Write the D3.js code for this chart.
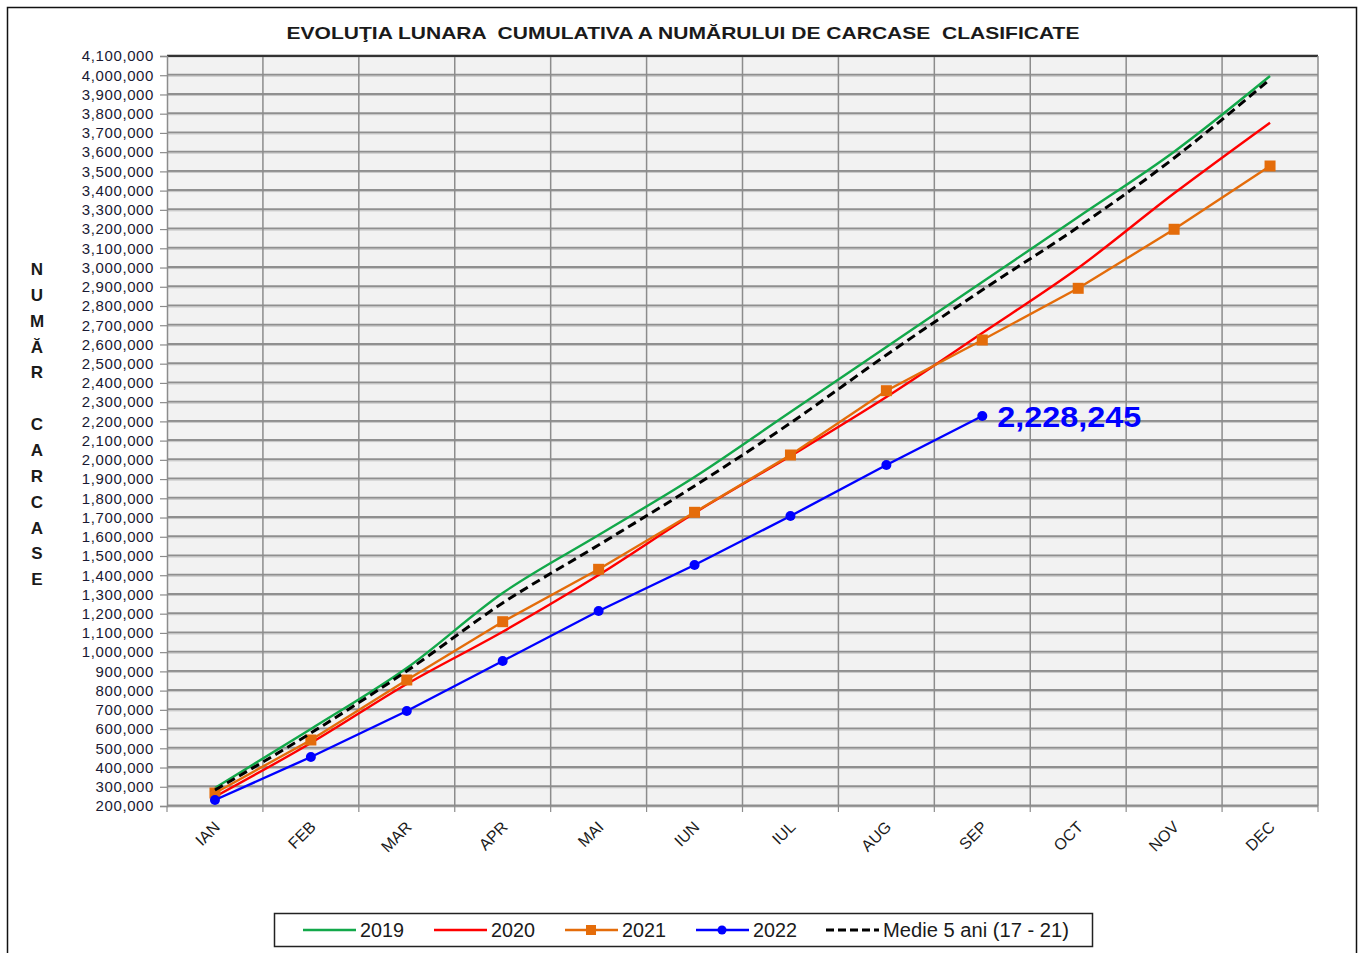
<!DOCTYPE html>
<html>
<head>
<meta charset="utf-8">
<script src="https://cdn.jsdelivr.net/npm/d3@7"></script>
<style>
  html, body { margin: 0; padding: 0; background: #fff; }
  svg { display: block; }
  text { font-family: Arial, "Liberation Sans", sans-serif; }
</style>
</head>
<body>
<svg id="chart" width="1362" height="953"></svg>
<script>
// ---------- data ----------
const months = ["IAN","FEB","MAR","APR","MAI","IUN","IUL","AUG","SEP","OCT","NOV","DEC"];
const yTicks = d3.range(200000, 4100001, 100000);
const s2019 = [293600, 600400, 917600, 1307600, 1609200, 1910800, 2248800, 2586800, 2924800, 3262800, 3602400, 3996000];
const s2020 = [248400, 527600, 834400, 1106400, 1401200, 1723600, 2020000, 2326800, 2659600, 2997600, 3386000, 3753200];
const s2021 = [267600, 543200, 855200, 1158400, 1430800, 1727200, 2025200, 2359600, 2623200, 2892000, 3199000, 3528000];
const s2022 = [231200, 454800, 694000, 954000, 1214000, 1453200, 1708000, 1973200, 2228245];
const medie = [283200, 579600, 902000, 1255600, 1557200, 1864000, 2191600, 2545200, 2883200, 3210800, 3569600, 3978800];
const legendLabels = ["2019", "2020", "2021", "2022", "Medie 5 ani (17 - 21)"];
const titleText = "EVOLUŢIA LUNARA  CUMULATIVA A NUMĂRULUI DE CARCASE  CLASIFICATE";
const yAxisLetters = ["N","U","M","Ă","R","","C","A","R","C","A","S","E"];

const svg = d3.select("#chart");

// outer frame
svg.append("rect").attr("x", 7.5).attr("y", 7.5).attr("width", 1349).attr("height", 970)
  .attr("fill", "#fff").attr("stroke", "#111").attr("stroke-width", 1.5);

const L = 167, R = 1318, T = 56, B = 806;
const x = d3.scaleBand().domain(months).range([L, R]).padding(0);
const y = d3.scaleLinear().domain([200000, 4100000]).range([B, T]);
const cx = m => x(m) + x.bandwidth() / 2;

// plot bg
svg.append("rect").attr("x", L).attr("y", T).attr("width", R - L).attr("height", B - T).attr("fill", "#f2f2f2");

// horizontal grid
const hg = svg.append("g");
yTicks.forEach(v => {
  hg.append("line").attr("x1", L).attr("x2", R).attr("y1", y(v) - 0.5).attr("y2", y(v) - 0.5)
    .attr("stroke", "#8f8f8f").attr("stroke-width", 2);
  hg.append("line").attr("x1", L).attr("x2", R).attr("y1", y(v) + 1).attr("y2", y(v) + 1)
    .attr("stroke", "#c4c4c4").attr("stroke-width", 1);
});
// vertical grid
months.slice(1).forEach(m => {
  svg.append("line").attr("x1", x(m)).attr("x2", x(m)).attr("y1", T).attr("y2", B)
    .attr("stroke", "#8c8c8c").attr("stroke-width", 1.5);
});
// top & right border
svg.append("line").attr("x1", L).attr("x2", R).attr("y1", T).attr("y2", T).attr("stroke", "#333").attr("stroke-width", 2);
svg.append("line").attr("x1", R).attr("x2", R).attr("y1", T).attr("y2", B).attr("stroke", "#8c8c8c").attr("stroke-width", 1.5);

// y axis
const yAxis = d3.axisLeft(y).tickValues(yTicks).tickFormat(d3.format(",")).tickSize(7).tickPadding(6);
const gy = svg.append("g").attr("transform", `translate(${L},0)`).call(yAxis);
gy.select(".domain").attr("stroke", "#8c8c8c").attr("stroke-width", 1.5);
gy.selectAll(".tick line").attr("stroke", "#8c8c8c").attr("stroke-width", 1.2);
gy.selectAll(".tick text").attr("font-size", 15).attr("fill", "#1a1a33")
  .attr("font-family", "Arial, 'Liberation Sans', sans-serif").attr("letter-spacing", 0.6);

// x axis
const gx = svg.append("g").attr("transform", `translate(0,${B})`);
gx.append("line").attr("x1", L).attr("x2", R).attr("y1", 0).attr("y2", 0).attr("stroke", "#8c8c8c").attr("stroke-width", 1.5);
months.concat(["_end"]).forEach((m, i) => {
  const xx = i < 12 ? x(m) : R;
  gx.append("line").attr("x1", xx).attr("x2", xx).attr("y1", 0).attr("y2", 6).attr("stroke", "#8c8c8c").attr("stroke-width", 1.2);
});
gx.selectAll("text.xl").data(months).enter().append("text")
  .attr("class", "xl")
  .attr("transform", d => `translate(${cx(d) + 6},${22}) rotate(-45)`)
  .attr("text-anchor", "end").attr("font-size", 16).attr("fill", "#1a1a1a").text(d => d);

// title
svg.append("text").attr("x", 683).attr("y", 39).attr("text-anchor", "middle")
  .attr("font-size", 17).attr("font-weight", "bold").attr("fill", "#1a1a1a")
  .attr("textLength", 793).attr("lengthAdjust", "spacingAndGlyphs")
  .style("white-space", "pre").text(titleText);

// vertical y label
svg.append("g").selectAll("text").data(yAxisLetters).enter().append("text")
  .attr("x", 37).attr("y", (d, i) => 275 + i * 25.85).attr("text-anchor", "middle")
  .attr("font-size", 17).attr("font-weight", "bold").attr("fill", "#1a1a1a").text(d => d);

// series
const colors = { g: "#12a84a", r: "#ff0000", o: "#e46c0a", b: "#0000ff", k: "#000" };
const mk = (data) => data.map((v, i) => [cx(months[i]), y(v)]);
const smooth = d3.line().curve(d3.curveMonotoneX);
const straight = d3.line();

const plot = svg.append("g");
plot.append("path").attr("d", smooth(mk(s2019))).attr("fill", "none").attr("stroke", colors.g).attr("stroke-width", 2.4);
plot.append("path").attr("d", smooth(mk(s2020))).attr("fill", "none").attr("stroke", colors.r).attr("stroke-width", 2.4);
plot.append("path").attr("d", straight(mk(s2021))).attr("fill", "none").attr("stroke", colors.o).attr("stroke-width", 2.4);
plot.selectAll("rect.o").data(mk(s2021)).enter().append("rect").attr("class", "o")
  .attr("x", d => d[0] - 5.5).attr("y", d => d[1] - 5.5).attr("width", 11).attr("height", 11).attr("fill", colors.o);
plot.append("path").attr("d", straight(mk(s2022))).attr("fill", "none").attr("stroke", colors.b).attr("stroke-width", 2.4);
plot.selectAll("circle.b").data(mk(s2022)).enter().append("circle").attr("class", "b")
  .attr("cx", d => d[0]).attr("cy", d => d[1]).attr("r", 5).attr("fill", colors.b);
plot.append("path").attr("d", smooth(mk(medie))).attr("fill", "none").attr("stroke", colors.k)
  .attr("stroke-width", 3).attr("stroke-dasharray", "9,5");

// annotation
const last = s2022[s2022.length - 1];
svg.append("text").attr("x", cx(months[s2022.length - 1]) + 15).attr("y", y(last) + 11)
  .attr("font-size", 30).attr("font-weight", "bold").attr("fill", colors.b)
  .attr("textLength", 144).attr("lengthAdjust", "spacingAndGlyphs")
  .text(d3.format(",")(last));

// legend
const lg = svg.append("g");
lg.append("rect").attr("x", 274.5).attr("y", 913.5).attr("width", 818).attr("height", 33)
  .attr("fill", "#fff").attr("stroke", "#222").attr("stroke-width", 1.5);
const items = [
  { x: 303, c: colors.g, label: legendLabels[0], m: null, w: 44 },
  { x: 434, c: colors.r, label: legendLabels[1], m: null, w: 44 },
  { x: 565, c: colors.o, label: legendLabels[2], m: "sq", w: 44 },
  { x: 696, c: colors.b, label: legendLabels[3], m: "ci", w: 44 },
  { x: 826, c: colors.k, label: legendLabels[4], m: "dash", w: 186 }
];
items.forEach(it => {
  const ly = 930;
  const ln = lg.append("line").attr("x1", it.x).attr("x2", it.x + 53).attr("y1", ly).attr("y2", ly)
    .attr("stroke", it.c).attr("stroke-width", it.m === "dash" ? 3 : 2.5);
  if (it.m === "dash") ln.attr("stroke-dasharray", "8,4");
  if (it.m === "sq") lg.append("rect").attr("x", it.x + 21).attr("y", ly - 5).attr("width", 10).attr("height", 10).attr("fill", it.c);
  if (it.m === "ci") lg.append("circle").attr("cx", it.x + 26).attr("cy", ly).attr("r", 4.5).attr("fill", it.c);
  lg.append("text").attr("x", it.x + 57).attr("y", ly + 7).attr("font-size", 20).attr("fill", "#1a1a1a")
    .attr("textLength", it.w).attr("lengthAdjust", "spacingAndGlyphs").text(it.label);
});
</script>
</body>
</html>
